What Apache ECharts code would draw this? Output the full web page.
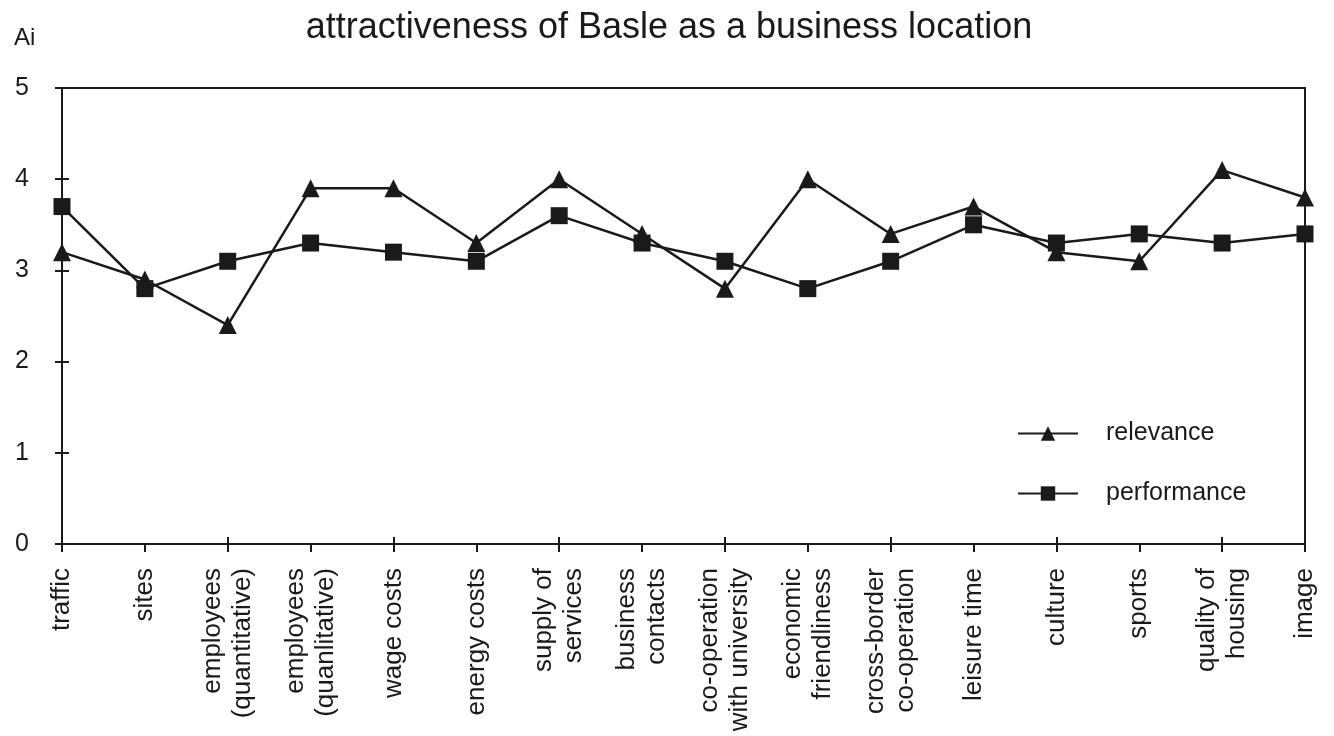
<!DOCTYPE html>
<html><head><meta charset="utf-8">
<script src="https://cdn.jsdelivr.net/npm/echarts@6/dist/echarts.min.js"></script>
<style>html,body{margin:0;padding:0;background:#fff}#c{width:1334px;height:736px}</style>
</head><body><div id="c"></div>
<script>
const categories = ["traffic","sites","employees\n(quantitative)","employees\n(quanlitative)","wage costs","energy costs","supply of\nservices","business\ncontacts","co-operation\nwith university","economic\nfriendliness","cross-border\nco-operation","leisure time","culture","sports","quality of\nhousing","image"];
const relevance = [3.2,2.9,2.4,3.9,3.9,3.3,4.0,3.4,2.8,4.0,3.4,3.7,3.2,3.1,4.1,3.8];
const performance = [3.7,2.8,3.1,3.3,3.2,3.1,3.6,3.3,3.1,2.8,3.1,3.5,3.3,3.4,3.3,3.4];
const yTicks = {min:0,max:5,interval:1};
const ink = '#1a1a1a';
const font = 'Arial, "Liberation Sans", sans-serif';
const chart = echarts.init(document.getElementById('c'));
chart.setOption({
  animation:false,
  backgroundColor:'#fff',
  textStyle:{fontFamily:font,color:ink},
  title:[{text:'attractiveness of Basle as a business location',left:664,textAlign:'center',top:5,textStyle:{fontFamily:font,fontSize:36,fontWeight:'normal',color:ink}},
         {text:'Ai',left:9,top:21,textStyle:{fontFamily:font,fontSize:24,fontWeight:'normal',color:ink}}],
  grid:{left:62,right:29,top:88,bottom:192,show:true,borderColor:ink,borderWidth:2,backgroundColor:'transparent'},
  legend:{orient:'vertical',left:1012,top:416,itemWidth:60,itemHeight:18,itemGap:35,
    textStyle:{fontFamily:font,fontSize:25,color:ink,padding:[0,0,0,23]},
    data:['relevance','performance']},
  xAxis:[{type:'category',data:categories,boundaryGap:false,
    axisLine:{lineStyle:{color:ink,width:2}},
    axisTick:{show:true,length:8,lineStyle:{color:ink,width:2},alignWithLabel:true},
    axisLabel:{rotate:90,fontSize:26,color:ink,fontFamily:font,margin:24,lineHeight:30,interval:0}},
    {type:'category',data:categories,boundaryGap:false,position:'bottom',offset:0,
    axisLine:{show:true,lineStyle:{color:ink,width:2}},
    axisTick:{show:true,inside:true,length:7,lineStyle:{color:ink,width:2}},
    axisLabel:{show:false}}],
  yAxis:[{type:'value',min:yTicks.min,max:yTicks.max,interval:yTicks.interval,
    splitLine:{show:false},
    axisLine:{show:true,lineStyle:{color:ink,width:2}},
    axisTick:{show:true,length:7,lineStyle:{color:ink,width:2}},
    axisLabel:{fontSize:25,color:ink,fontFamily:font,margin:33}},
    {type:'value',min:yTicks.min,max:yTicks.max,interval:yTicks.interval,position:'left',offset:0,
    splitLine:{show:false},
    axisLine:{show:true,lineStyle:{color:ink,width:2}},
    axisTick:{show:true,inside:true,length:7,lineStyle:{color:ink,width:2}},
    axisLabel:{show:false}}],
  series:[
    {name:'relevance',type:'line',data:relevance,symbol:'triangle',symbolSize:18,
      lineStyle:{color:ink,width:2.5},itemStyle:{color:ink}},
    {name:'performance',type:'line',data:performance,symbol:'rect',symbolSize:17,
      lineStyle:{color:ink,width:2.5},itemStyle:{color:ink}}
  ]
});
</script></body></html>
